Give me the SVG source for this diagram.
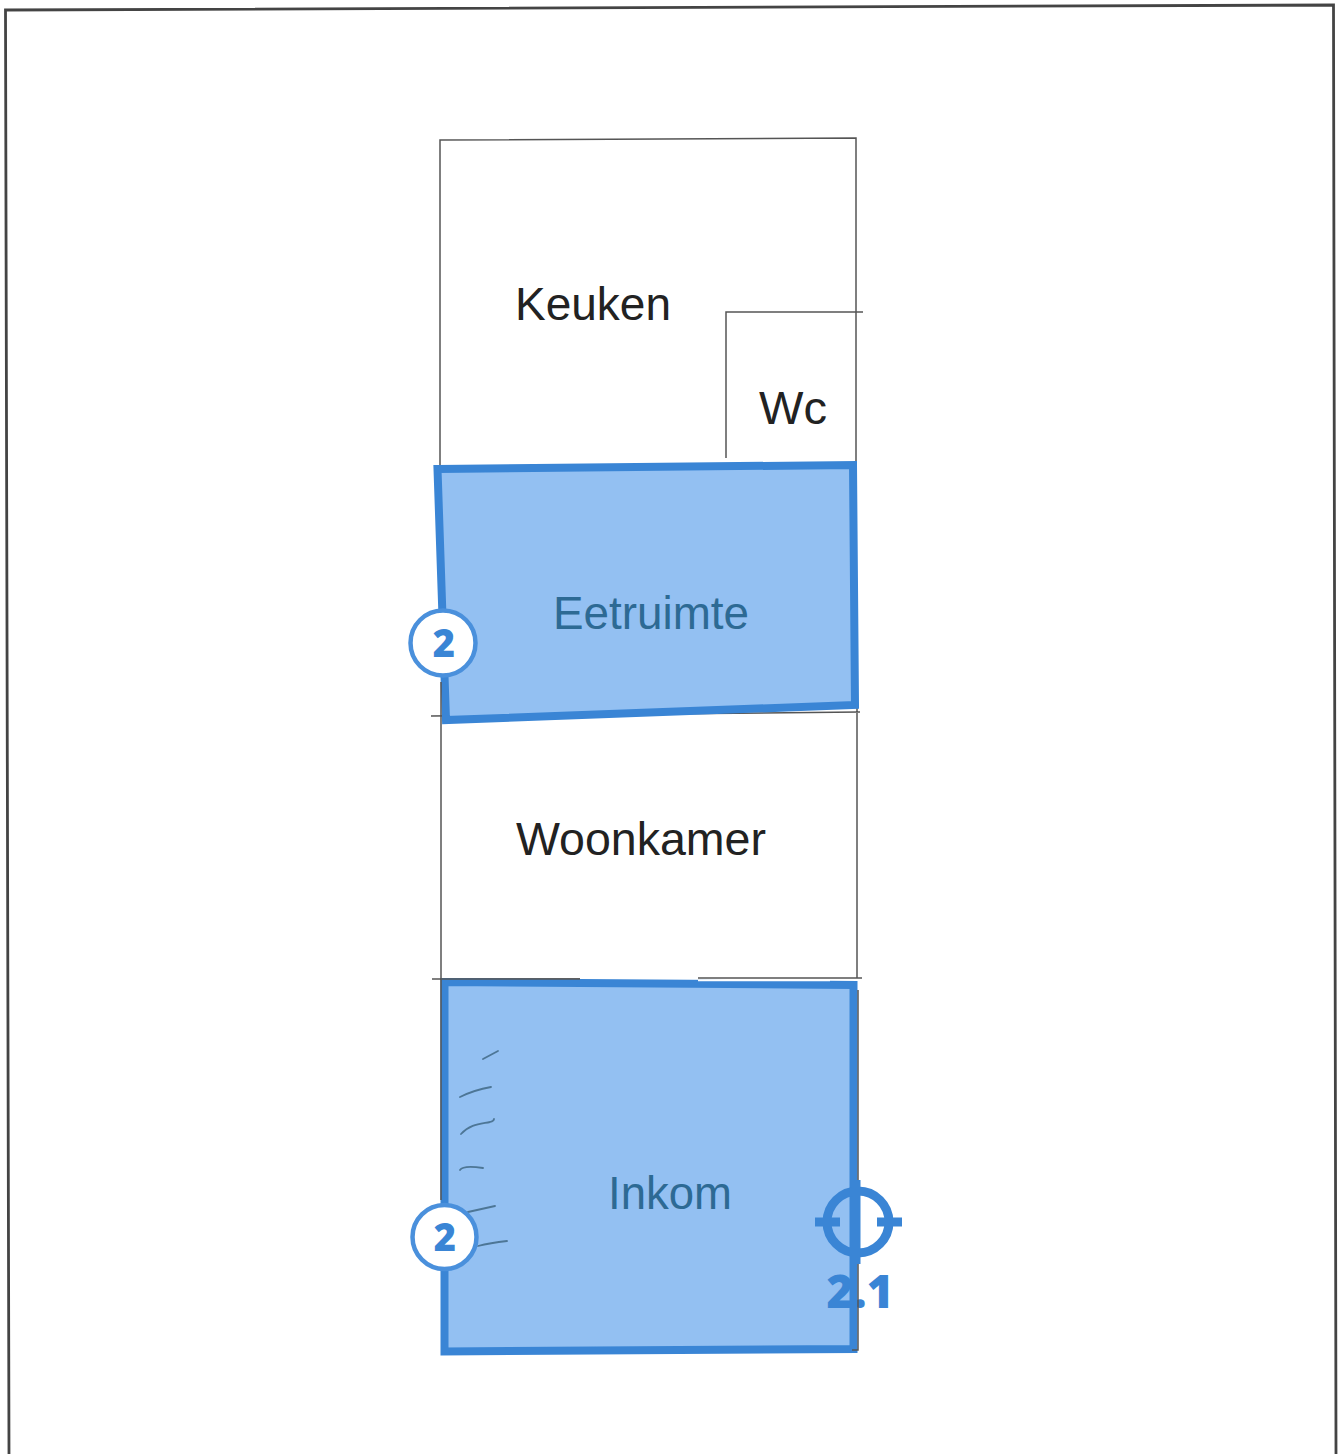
<svg xmlns="http://www.w3.org/2000/svg" width="1339" height="1454" viewBox="0 0 1339 1454">
<style>
.wall{fill:none;stroke:#555;stroke-width:1.5}
.room{fill:#93c0f2;stroke:#3a85d5;stroke-width:8;stroke-linejoin:miter}
.lbl{font-family:"Liberation Sans",Arial,sans-serif;font-size:46px;fill:#222}
.lbl2{font-family:"Liberation Sans",Arial,sans-serif;font-size:46px;fill:#2d6a94}
.num{font-family:"Open Sans","Noto Sans",sans-serif;font-weight:800;fill:#3a85d5}
.badge{fill:#fff;stroke:#4a90dc;stroke-width:4.5}
.hatch{fill:none;stroke:#4d7696;stroke-width:1.8;stroke-linecap:round}
.tgt{fill:none;stroke:#3a85d5;stroke-width:9}
</style>
<rect width="1339" height="1454" fill="#fff"/>
<path id="page" d="M9 1454L5.500 10L1333.500 5L1336 1454" fill="none" stroke="#444" stroke-width="2.800"/>
<g id="plan">
<path class="wall" d="M440 466V140L856 138V464"/>
<path class="wall" d="M863 312H726V458"/>
<path class="wall" d="M431 716L860 712M857 700V978"/>
<path class="wall" d="M432 979H580M698 978H862"/>
</g>
<g id="eetruimte">
<path class="room" d="M437.500 469L853 465L855 705L446 720Z"/>
<text class="lbl2" x="651" y="629" text-anchor="middle" textLength="196" lengthAdjust="spacingAndGlyphs">Eetruimte</text>
</g>
<g id="inkom">
<path class="room" d="M444.500 982L853.500 985V1349L444.500 1351.500Z"/>
<text class="lbl2" x="670" y="1209" text-anchor="middle" textLength="124" lengthAdjust="spacingAndGlyphs">Inkom</text>
<path class="hatch" d="M483 1059L498 1051M460 1097Q474 1090 491 1087M461 1134C470 1124 480 1124 490 1122Q494 1121 494 1119M460 1170Q463 1165 483 1168M468 1212L495 1206M478 1246Q490 1243 507 1241"/>
<path d="M698 980.500H830" stroke="#fff" stroke-width="1.500" fill="none"/>
<path class="wall" d="M441 682V1200M440 979H580"/>
</g>
<g id="keuken"><text class="lbl" x="593" y="320" text-anchor="middle" textLength="156" lengthAdjust="spacingAndGlyphs">Keuken</text></g>
<g id="wc"><text class="lbl" x="793" y="424" text-anchor="middle" textLength="68" lengthAdjust="spacingAndGlyphs">Wc</text></g>
<g id="woonkamer"><text class="lbl" x="641" y="855" text-anchor="middle" textLength="250" lengthAdjust="spacingAndGlyphs">Woonkamer</text></g>
<g id="badge-eetruimte">
<circle class="badge" cx="443" cy="643" r="32.500"/>
<text class="num" x="444" y="657" font-size="38" text-anchor="middle">2</text>
</g>
<g id="badge-inkom">
<circle class="badge" cx="444.500" cy="1237" r="32"/>
<text class="num" x="445" y="1251" font-size="38" text-anchor="middle">2</text>
</g>
<g id="target">
<text class="num" x="860" y="1308" font-size="46" text-anchor="middle">2.1</text>
<path class="wall" d="M858 990V1350H852"/>
<circle class="tgt" cx="858" cy="1222" r="31"/>
<path class="tgt" d="M815 1222H840M877 1222H902M856 1180V1264"/>
</g>
</svg>
